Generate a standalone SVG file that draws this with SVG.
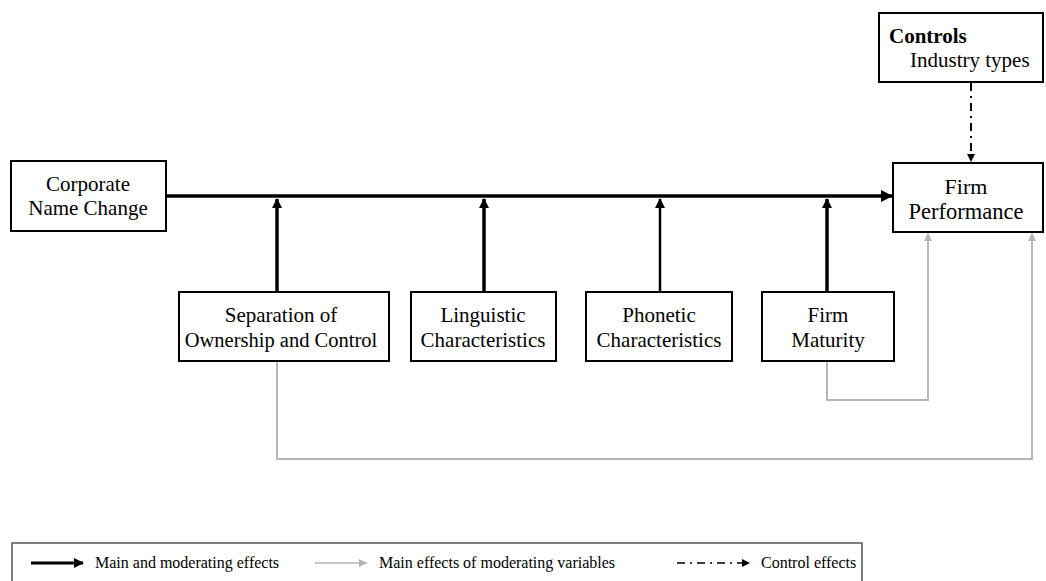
<svg xmlns="http://www.w3.org/2000/svg" width="1046" height="581" viewBox="0 0 1046 581">
<style>
.box{fill:#fff;stroke:#000;stroke-width:2}
.t{font-family:'Liberation Serif','Times New Roman',serif;font-size:21px;fill:#000;text-anchor:middle}
.lg{font-family:'Liberation Serif','Times New Roman',serif;font-size:16px;fill:#000}
.main{stroke:#000;stroke-width:3.5;fill:none}
.mod{stroke:#000;stroke-width:3.5;fill:none}
.gray{stroke:#b5b5b5;stroke-width:2;fill:none}
.ctl{stroke:#000;stroke-width:2;fill:none;stroke-dasharray:8,5,2,5}
</style>
<defs>
<marker id="ab" markerWidth="10" markerHeight="10" refX="9" refY="5" orient="auto" markerUnits="userSpaceOnUse">
<path d="M0,0 L10,5 L0,10 Z" fill="#000"/>
</marker>
<marker id="ab2" markerWidth="12" markerHeight="12" refX="11" refY="6" orient="auto" markerUnits="userSpaceOnUse">
<path d="M0,0 L12,6 L0,12 Z" fill="#000"/>
</marker>
<marker id="ag" markerWidth="8" markerHeight="8" refX="8" refY="4" orient="auto" markerUnits="userSpaceOnUse">
<path d="M0,0 L8,4 L0,8 Z" fill="#b5b5b5"/>
</marker>
<marker id="ac" markerWidth="8" markerHeight="8" refX="8" refY="4" orient="auto" markerUnits="userSpaceOnUse">
<path d="M0,0 L8,4 L0,8 Z" fill="#000"/>
</marker>
</defs>
<g id="connectors">
<line class="main" x1="166" y1="196" x2="892" y2="196" marker-end="url(#ab2)"/>
<line class="mod" x1="277" y1="292" x2="277" y2="199" marker-end="url(#ab)"/>
<line class="mod" x1="484" y1="292" x2="484" y2="199" marker-end="url(#ab)"/>
<line class="mod" x1="660" y1="292" x2="660" y2="199" style="stroke-width:2.5" marker-end="url(#ab)"/>
<line class="mod" x1="827" y1="292" x2="827" y2="199" marker-end="url(#ab)"/>
<polyline class="gray" points="827,361 827,400 928,400 928,233" marker-end="url(#ag)"/>
<polyline class="gray" points="277,361 277,459 1032,459 1032,233" marker-end="url(#ag)"/>
<line class="ctl" x1="971" y1="83" x2="971" y2="162" marker-end="url(#ac)"/>
</g>
<g id="corporate">
<rect class="box" x="11" y="161" width="155" height="70"/>
<text class="t" x="88" y="191">Corporate</text>
<text class="t" x="88" y="215">Name Change</text>
</g>
<g id="firm-performance">
<rect class="box" x="893" y="163" width="150" height="69"/>
<text class="t" x="966" y="194" style="font-size:22px">Firm</text>
<text class="t" x="966" y="219" style="font-size:22.5px">Performance</text>
</g>
<g id="controls">
<rect class="box" x="879" y="13" width="164" height="69"/>
<text class="t" x="889" y="43" style="text-anchor:start;font-weight:bold">Controls</text>
<text class="t" x="910" y="67" style="text-anchor:start">Industry types</text>
</g>
<g id="separation">
<rect class="box" x="179" y="292" width="210" height="69"/>
<text class="t" x="281" y="322">Separation of</text>
<text class="t" x="281" y="347" style="font-size:20.5px">Ownership and Control</text>
</g>
<g id="linguistic">
<rect class="box" x="411" y="292" width="145" height="69"/>
<text class="t" x="483" y="322">Linguistic</text>
<text class="t" x="483" y="347">Characteristics</text>
</g>
<g id="phonetic">
<rect class="box" x="586" y="292" width="146" height="69"/>
<text class="t" x="659" y="322">Phonetic</text>
<text class="t" x="659" y="347">Characteristics</text>
</g>
<g id="maturity">
<rect class="box" x="762" y="292" width="132" height="69"/>
<text class="t" x="828" y="322">Firm</text>
<text class="t" x="828" y="347">Maturity</text>
</g>
<g id="legend">
<rect x="12" y="543" width="850" height="45" fill="#fff" stroke="#555" stroke-width="1.5"/>
<line x1="31" y1="563" x2="83" y2="563" stroke="#000" stroke-width="3" marker-end="url(#ab)"/>
<text class="lg" x="95" y="568">Main and moderating effects</text>
<line x1="315" y1="563" x2="367" y2="563" class="gray" style="stroke-width:1.5" marker-end="url(#ag)"/>
<text class="lg" x="379" y="568">Main effects of moderating variables</text>
<line x1="677" y1="563" x2="750" y2="563" stroke="#000" stroke-width="1.5" stroke-dasharray="8,5,2,5" marker-end="url(#ac)"/>
<text class="lg" x="761" y="568">Control effects</text>
</g>
</svg>
